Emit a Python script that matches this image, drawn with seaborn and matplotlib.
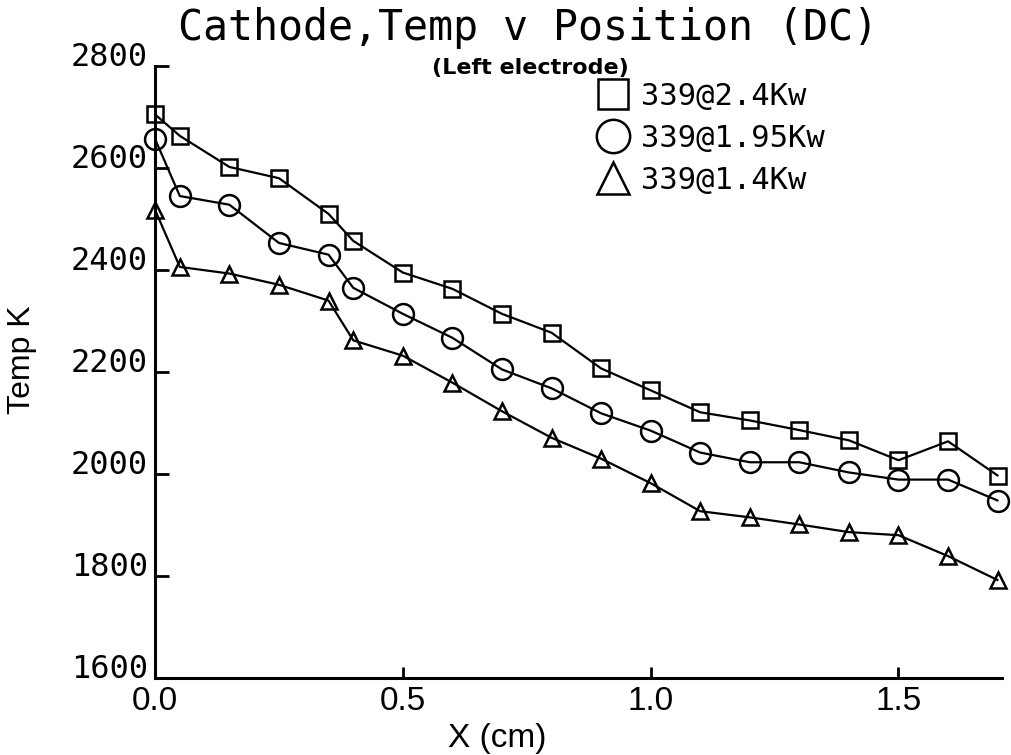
import numpy as np
import pandas as pd
import matplotlib
matplotlib.use("Agg")
import matplotlib.pyplot as plt
from matplotlib.lines import Line2D
import seaborn as sns

# Measurement positions along the electrode (cm)
position_cm = [0.0, 0.05, 0.15, 0.25, 0.35, 0.40, 0.5, 0.6, 0.7, 0.8,
               0.9, 1.0, 1.1, 1.2, 1.3, 1.4, 1.5, 1.6, 1.7]

# Cathode temperature (K) for each power level
temp_2p4kw = [2705, 2663, 2602, 2580, 2510, 2457, 2395, 2363, 2314, 2277,
              2207, 2164, 2121, 2105, 2086, 2066, 2027, 2064, 1997]
temp_1p95kw = [2657, 2545, 2528, 2453, 2430, 2365, 2314, 2267, 2205, 2168,
               2119, 2085, 2042, 2023, 2023, 2003, 1989, 1989, 1948]
temp_1p4kw = [2518, 2406, 2393, 2371, 2340, 2262, 2232, 2179, 2123, 2071,
              2030, 1982, 1927, 1915, 1901, 1886, 1880, 1839, 1792]

series_labels = ["339@2.4Kw", "339@1.95Kw", "339@1.4Kw"]
y_ticks = [1600, 1800, 2000, 2200, 2400, 2600, 2800]
x_ticks = [0.0, 0.5, 1.0, 1.5]
x_tick_labels = ["0.0", "0.5", "1.0", "1.5"]

title_text = "Cathode,Temp v Position (DC)"
subtitle_text = "(Left electrode)"

df = pd.DataFrame({
    "x": position_cm * 3,
    "temp": temp_2p4kw + temp_1p95kw + temp_1p4kw,
    "run": [series_labels[0]] * len(position_cm)
           + [series_labels[1]] * len(position_cm)
           + [series_labels[2]] * len(position_cm),
})

sns.set_theme(style="ticks")
plt.rcParams["font.family"] = ["DejaVu Sans Mono", "DejaVu Sans"]
plt.rcParams["text.color"] = "black"
plt.rcParams["axes.labelcolor"] = "black"
plt.rcParams["xtick.color"] = "black"
plt.rcParams["ytick.color"] = "black"

fig = plt.figure(figsize=(10.12, 7.55), dpi=100)
ax = fig.add_axes([0.1532, 0.102, 0.837, 0.8106])

marker_map = {series_labels[0]: "s", series_labels[1]: "o", series_labels[2]: "^"}
size_map = {series_labels[0]: 11.5, series_labels[1]: 15, series_labels[2]: 12}

for lab in series_labels:
    sub = df[df["run"] == lab]
    sns.lineplot(data=sub, x="x", y="temp", ax=ax, color="black",
                 marker=marker_map[lab], markersize=size_map[lab],
                 markerfacecolor="none", markeredgecolor="black",
                 markeredgewidth=1.8, linewidth=1.6, legend=False,
                 estimator=None, sort=False, clip_on=False)

ax.set_xlim(0, 1.709)
ax.set_ylim(1600, 2800)
ax.set_xticks(x_ticks)
ax.set_xticklabels(x_tick_labels, family="Liberation Sans", fontsize=24,
                   color="black")
ax.set_yticks(y_ticks)
ax.set_yticklabels([str(v) for v in y_ticks], fontsize=23, color="black")
for t in ax.get_yticklabels():
    t.set_verticalalignment("baseline")

ax.tick_params(axis="y", direction="in", length=10, width=2, pad=5, colors="black")
ax.tick_params(axis="x", direction="in", length=8, width=2, pad=6, colors="black")

for side in ["top", "right"]:
    ax.spines[side].set_visible(False)
for side in ["left", "bottom"]:
    ax.spines[side].set_linewidth(2.2)
    ax.spines[side].set_color("black")

ax.set_xlabel("")
ax.set_ylabel("")
fig.text(497 / 1012, 1 - 747 / 755, "X (cm)", family="Liberation Sans",
         fontsize=24, ha="center", va="baseline", color="black")
fig.text(22 / 1012, 1 - 360 / 755, "Temp K", family="Liberation Sans",
         fontsize=23, rotation=90, ha="center", va="center", color="black")

fig.text(528 / 1012, 1 - 40 / 755, title_text, fontsize=30,
         ha="center", va="baseline", color="black")
fig.text(530 / 1012, 1 - 68 / 755, subtitle_text, family="DejaVu Sans",
         fontweight="bold", fontsize=16, ha="center", va="center",
         color="black")

handles = [
    Line2D([], [], linestyle="none", marker="s", markersize=21,
           markerfacecolor="none", markeredgecolor="black", markeredgewidth=1.8),
    Line2D([], [], linestyle="none", marker="o", markersize=24,
           markerfacecolor="none", markeredgecolor="black", markeredgewidth=1.8),
    Line2D([], [], linestyle="none", marker="^", markersize=23,
           markerfacecolor="none", markeredgecolor="black", markeredgewidth=1.8),
]
leg = fig.legend(handles=handles, labels=series_labels, loc="upper left",
                 bbox_to_anchor=(598 / 1012, 1 - 82 / 755), frameon=False,
                 fontsize=22, handlelength=1.0, handletextpad=0.4,
                 labelspacing=0.42, borderpad=0, borderaxespad=0)
for t in leg.get_texts():
    t.set_color("black")

fig.savefig("out.png", dpi=100, facecolor="white")
